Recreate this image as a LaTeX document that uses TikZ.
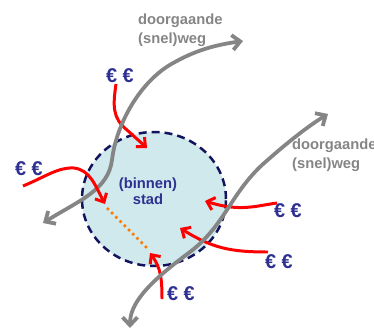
\documentclass[tikz,border=0pt]{standalone}
\usepackage{fontspec}
\setmainfont{Liberation Sans}
\usetikzlibrary{arrows.meta,shapes.geometric}
\definecolor{road}{HTML}{858585}
\definecolor{money}{HTML}{2E3192}
\definecolor{cityfill}{HTML}{CFE9EC}
\definecolor{cityline}{HTML}{14145E}
\definecolor{redline}{HTML}{FF0000}
\definecolor{orangedot}{HTML}{FF7A00}
\tikzset{
  roadline/.style={draw=road, line width=3.8pt, {Straight Barb[length=8pt,width=15pt]}-{Straight Barb[length=8pt,width=15pt]}},
  flow/.style={draw=redline, line width=3pt, -{Straight Barb[length=7pt,width=13pt]}},
  euro/.style={text=money, font=\bfseries\fontsize{20}{20}\selectfont, inner sep=0pt},
  roadlabel/.style={text=road, font=\bfseries\fontsize{14.8}{18.5}\selectfont, align=left, inner sep=0pt, anchor=north west},
  citylabel/.style={text=money, font=\bfseries\fontsize{14.8}{16.5}\selectfont, align=center, inner sep=0pt}
}
\begin{document}
\begin{tikzpicture}[x=1bp,y=-1bp]
\useasboundingbox (0,0) rectangle (374,334);
% city
\node[draw=cityline, fill=cityfill, dash pattern=on 8pt off 5pt, line width=2.5pt, ellipse, minimum width=144bp, minimum height=134bp, inner sep=0pt] (city) at (154,199) {};
\node[citylabel] (citytext) at (148,191) {(binnen)\\stad};
% euro labels
\node[euro] (e1) at (120,76) {€ €};
\node[euro] (e2) at (29,169) {€ €};
\node[euro] (e3) at (288,211) {€ €};
\node[euro] (e4) at (279,262) {€ €};
\node[euro] (e5) at (181,294) {€ €};
% road labels
\node[roadlabel] (l1) at (138,14) {doorgaande\\(snel)weg};
\node[roadlabel] (l2) at (292,139) {doorgaande\\(snel)weg};
% coordinates for flows
\coordinate (s1) at (116,84);
\coordinate (t1) at (147,148);
\coordinate (s2) at (23,186);
\coordinate (t2) at (105,204);
\coordinate (s3) at (277,203);
\coordinate (t3) at (205,201);
\coordinate (s4) at (268,252);
\coordinate (t4) at (180,228);
\coordinate (s5) at (162,299);
\coordinate (t5) at (150,253);
% orange dotted
\coordinate (o1) at (107,208);
\coordinate (o2) at (147,248);
\draw[orangedot, line width=2.5pt, dash pattern=on 2.5pt off 3.5pt] (o1) -- (o2);
% red flows under roads
\draw[flow] (s1) .. controls (113,105) and (112,118) .. (127,130) -- (t1);
\draw[flow] (s3) .. controls (255,206) and (240,212) .. (t3);
\draw[flow] (s4) .. controls (230,252) and (212,248) .. (t4);
\draw[flow] (s5) .. controls (162,280) and (161,268) .. (t5);
% roads
\coordinate (r1a) at (43,223);
\coordinate (r1b) at (243,41);
\coordinate (r2a) at (130,328);
\coordinate (r2b) at (328,114);
\draw[roadline] (r1a) .. controls (80,200) and (108,190) .. (112,160) .. controls (116,125) and (140,80) .. (175,62) .. controls (200,48) and (222,44) .. (r1b);
\draw[roadline] (r2a) .. controls (130,305) and (145,285) .. (190,252) .. controls (225,225) and (230,195) .. (262,165) .. controls (290,140) and (310,125) .. (r2b);
% red flow on top
\draw[flow] (s2) .. controls (45,177) and (58,167) .. (74,168) .. controls (90,170) and (95,185) .. (t2);
\end{tikzpicture}
\end{document}
